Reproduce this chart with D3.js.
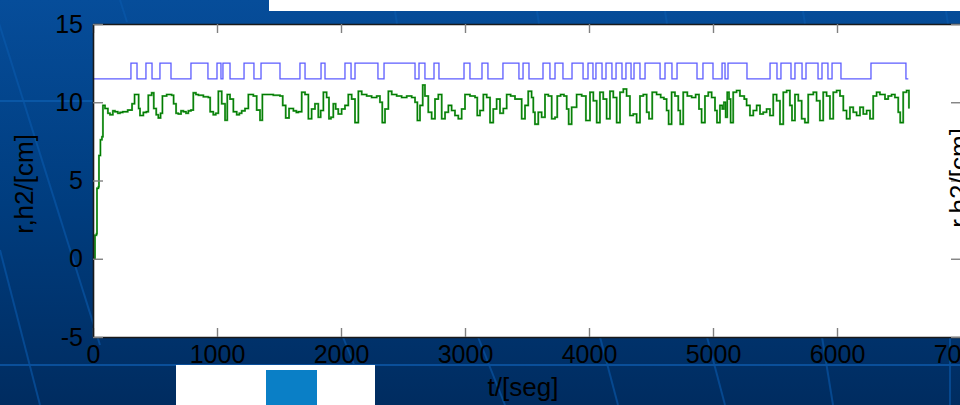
<!DOCTYPE html>
<html>
<head>
<meta charset="utf-8">
<script src="https://cdn.jsdelivr.net/npm/d3@7"></script>
<style>
  body { margin: 0; background: #003a7a; }
  svg { display: block; font-family: "Liberation Sans", Arial, sans-serif; }
</style>
</head>
<body>
<div id="vis"></div>
<script>
// reference signal r: pulses (start, end) in seconds, levels in cm
const R_LOW = 11.5;
const R_HIGH = 12.5;
const R_END = 6575;
const rPulseStart = [306, 427, 540, 790, 1000, 1048, 1218, 1355, 1669, 1839, 2032, 2113, 2347, 2629, 2750, 2992, 3137, 3306, 3468, 3629, 3726, 3863, 3992, 4056, 4137, 4218, 4298, 4363, 4452, 4613, 4710, 4919, 5073, 5121, 5460, 5548, 5661, 5750, 5879, 5960, 6274];
const rPulseEnd   = [355, 476, 629, 927, 1032, 1105, 1298, 1508, 1710, 1871, 2081, 2298, 2597, 2677, 2790, 3040, 3185, 3435, 3516, 3685, 3790, 3952, 4032, 4105, 4185, 4266, 4339, 4411, 4573, 4669, 4871, 5000, 5097, 5274, 5516, 5629, 5718, 5847, 5927, 6032, 6556];

// measured level h2
const h2Time = [0, 12, 16, 28, 32, 44, 48, 60, 72, 80, 97, 120, 137, 160, 177, 200, 218, 240, 258, 280, 298, 315, 335, 352, 368, 379, 406, 430, 446, 473, 490, 510, 527, 545, 560, 594, 634, 650, 670, 688, 710, 729, 750, 769, 790, 809, 830, 850, 890, 930, 945, 970, 990, 1011, 1038, 1065, 1083, 1105, 1132, 1159, 1180, 1199, 1226, 1253, 1293, 1320, 1347, 1366, 1400, 1454, 1508, 1530, 1554, 1581, 1616, 1640, 1656, 1683, 1710, 1737, 1763, 1790, 1817, 1836, 1858, 1884, 1903, 1919, 1938, 1957, 1978, 2005, 2032, 2059, 2086, 2113, 2140, 2167, 2207, 2247, 2288, 2314, 2333, 2355, 2382, 2409, 2449, 2489, 2530, 2570, 2597, 2616, 2637, 2659, 2677, 2704, 2731, 2758, 2785, 2812, 2839, 2866, 2892, 2919, 2946, 2973, 3000, 3040, 3081, 3099, 3121, 3148, 3175, 3202, 3228, 3255, 3282, 3309, 3336, 3368, 3403, 3430, 3457, 3484, 3510, 3537, 3551, 3564, 3591, 3618, 3645, 3672, 3699, 3726, 3744, 3771, 3798, 3820, 3836, 3860, 3900, 3941, 3975, 4008, 4035, 4062, 4088, 4115, 4142, 4169, 4196, 4223, 4250, 4277, 4303, 4330, 4357, 4384, 4411, 4438, 4465, 4484, 4510, 4545, 4578, 4604, 4626, 4642, 4666, 4693, 4720, 4736, 4760, 4793, 4828, 4860, 4887, 4908, 4935, 4962, 4989, 5016, 5032, 5056, 5075, 5088, 5102, 5115, 5129, 5142, 5163, 5190, 5217, 5252, 5271, 5298, 5325, 5352, 5379, 5405, 5432, 5459, 5486, 5513, 5540, 5567, 5594, 5620, 5637, 5661, 5688, 5715, 5741, 5768, 5809, 5835, 5862, 5889, 5916, 5943, 5970, 5997, 6024, 6051, 6077, 6104, 6131, 6158, 6185, 6212, 6239, 6266, 6292, 6319, 6346, 6387, 6413, 6440, 6467, 6494, 6510, 6534, 6561, 6580];
const h2Value = [0, 0, 1.5, 1.6, 4.5, 4.6, 6.6, 7.6, 7.8, 9.8, 9.6, 9.3, 9.2, 9.45, 9.4, 9.3, 9.35, 9.4, 9.4, 9.5, 9.5, 9.9, 10.5, 10.5, 9.6, 9.15, 9.35, 9.4, 10.45, 10.6, 9.6, 9.2, 9.0, 9.3, 10.4, 10.5, 10.45, 9.9, 9.3, 9.25, 9.45, 9.4, 9.3, 9.45, 9.5, 10.6, 10.5, 10.45, 10.35, 10.3, 9.4, 9.2, 9.3, 10.7, 9.9, 8.85, 10.5, 10.2, 9.4, 9.2, 9.3, 9.45, 9.6, 10.5, 10.4, 9.5, 8.85, 10.5, 10.5, 10.45, 10.4, 9.8, 9.0, 9.6, 9.45, 9.35, 9.4, 10.64, 10.5, 8.95, 9.57, 9.9, 9.04, 9.47, 10.64, 10.3, 8.95, 9.04, 9.9, 9.57, 9.25, 9.57, 9.8, 10.5, 10.2, 8.7, 10.7, 10.5, 10.4, 10.3, 10.4, 10.0, 8.7, 9.57, 10.7, 10.5, 10.4, 10.3, 10.4, 10.3, 10.0, 8.83, 9.8, 11.1, 10.4, 9.36, 8.95, 10.2, 10.5, 8.95, 9.36, 9.8, 9.47, 9.15, 8.95, 9.57, 10.5, 10.4, 10.3, 9.15, 9.47, 10.5, 10.3, 8.7, 9.57, 10.2, 9.3, 9.6, 10.5, 10.4, 10.2, 10.2, 8.95, 9.8, 10.7, 10.3, 9.36, 8.6, 9.36, 9.04, 10.5, 10.4, 8.95, 9.04, 10.4, 10.5, 10.4, 9.57, 8.6, 9.68, 10.5, 10.4, 8.83, 10.64, 10.1, 8.7, 10.64, 10.2, 8.95, 10.7, 10.3, 8.7, 10.64, 10.85, 10.4, 9.15, 9.25, 8.7, 10.4, 10.5, 9.36, 8.95, 10.64, 10.5, 10.3, 10.2, 9.47, 8.6, 10.64, 10.4, 9.47, 8.6, 10.64, 10.4, 10.3, 10.5, 9.57, 8.7, 10.4, 10.64, 10.3, 9.47, 8.7, 9.8, 9.57, 10.0, 9.04, 10.64, 10.2, 8.7, 10.64, 10.75, 10.4, 10.2, 9.8, 9.15, 9.47, 9.8, 9.25, 9.36, 9.57, 9.15, 10.5, 10.1, 8.6, 10.64, 10.75, 9.8, 8.83, 10.5, 10.1, 8.95, 8.7, 10.5, 10.64, 10.1, 8.83, 10.64, 10.4, 8.95, 10.64, 10.75, 10.4, 9.47, 8.95, 9.68, 9.36, 9.15, 9.68, 9.25, 9.47, 8.95, 10.4, 10.64, 10.5, 10.2, 10.4, 10.5, 10.3, 9.36, 8.7, 10.64, 10.75, 9.6];

const xTicks = [0, 1000, 2000, 3000, 4000, 5000, 6000, 7000];
const yTicks = [-5, 0, 5, 10, 15];
const X_LABEL = "t/[seg]";
const Y_LABEL = "r,h2/[cm]";

const WIDTH = 960;
const HEIGHT = 405;
const PLOT = {left: 93, right: 961, top: 24, bottom: 337};

const svg = d3.select('#vis')
    .append('svg')
    .attr('width', WIDTH)
    .attr('height', HEIGHT);

const X_SCALE = d3.scaleLinear().domain([0, 7000]).range([PLOT.left, PLOT.right]);
const Y_SCALE = d3.scaleLinear().domain([-5, 15]).range([PLOT.bottom, PLOT.top]);

// slide background
const defs = svg.append('defs');
const grad = defs.append('linearGradient')
    .attr('id', 'bg').attr('x1', 0).attr('y1', 0).attr('x2', 0).attr('y2', 1);
grad.append('stop').attr('offset', '0%').attr('stop-color', '#064d9a');
grad.append('stop').attr('offset', '50%').attr('stop-color', '#003d7f');
grad.append('stop').attr('offset', '100%').attr('stop-color', '#002c60');

svg.append('rect').attr('width', WIDTH).attr('height', HEIGHT).attr('fill', 'url(#bg)');

// faint decorative streaks of the slide
const streaks = [
  [-2, 20, 100, 345], [0, 250, 40, 405], [120, 0, 127, 22],
  [395, 11, 397, 24], [537, 11, 539, 24], [665, 11, 667, 24], [803, 11, 805, 24], [946, 11, 948, 24],
  [343, 337, 357, 372], [478, 337, 505, 405], [600, 337, 618, 405], [707, 337, 725, 405], [822, 337, 833, 405], [950, 337, 950, 405]
];
svg.append('g').selectAll('line')
    .data(streaks)
    .enter()
    .append('line')
        .attr('x1', d => d[0]).attr('y1', d => d[1])
        .attr('x2', d => d[2]).attr('y2', d => d[3])
        .attr('stroke', '#0a5aad')
        .attr('stroke-width', 2)
        .attr('opacity', 0.6);

svg.append('line').attr('x1', 0).attr('x2', PLOT.left).attr('y1', 101).attr('y2', 101)
    .attr('stroke', '#0a57a6').attr('stroke-width', 2);
svg.append('line').attr('x1', 0).attr('x2', WIDTH).attr('y1', 365).attr('y2', 365)
    .attr('stroke', '#0a4f9a').attr('stroke-width', 2);

// white strip at top of slide
svg.append('rect').attr('x', 269).attr('y', 0).attr('width', WIDTH - 269).attr('height', 11).attr('fill', '#ffffff');

// plot area
svg.append('rect')
    .attr('x', PLOT.left).attr('y', PLOT.top)
    .attr('width', PLOT.right - PLOT.left).attr('height', PLOT.bottom - PLOT.top)
    .attr('fill', '#ffffff');

defs.append('clipPath').attr('id', 'clip')
  .append('rect')
    .attr('x', PLOT.left).attr('y', PLOT.top)
    .attr('width', PLOT.right - PLOT.left).attr('height', PLOT.bottom - PLOT.top);

// build step series for r
const rData = [{t: 0, v: R_LOW}];
rPulseStart.forEach((s, i) => {
  rData.push({t: s, v: R_HIGH});
  rData.push({t: rPulseEnd[i], v: R_LOW});
});
rData.push({t: R_END, v: R_LOW});

const h2Data = h2Time.map((t, i) => ({t: t, v: h2Value[i]}));

const stepLine = d3.line()
    .x(d => X_SCALE(d.t))
    .y(d => Y_SCALE(d.v))
    .curve(d3.curveStepAfter);

const plotG = svg.append('g').attr('clip-path', 'url(#clip)');

plotG.append('path')
    .datum(rData)
    .attr('d', stepLine)
    .attr('fill', 'none')
    .attr('stroke', '#5c5cff')
    .attr('stroke-width', 1.3);

plotG.append('path')
    .datum(h2Data)
    .attr('d', stepLine)
    .attr('fill', 'none')
    .attr('stroke', '#5cb45c')
    .attr('stroke-width', 2);

plotG.append('path')
    .datum(h2Data)
    .attr('d', stepLine)
    .attr('fill', 'none')
    .attr('stroke', '#007a00')
    .attr('stroke-width', 1.1);

// axes, MATLAB style ticks pointing inwards
function styleAxis(g) {
  g.select('.domain').attr('stroke', '#1a1a1a').attr('stroke-width', 1.6);
  g.selectAll('.tick line').attr('stroke', '#808080').attr('stroke-width', 1.4);
  g.selectAll('.tick text')
      .attr('fill', '#000')
      .attr('font-size', '25px')
      .attr('font-family', '"Liberation Sans", Arial, sans-serif');
}

const fmt = d => String(d);

svg.append('g')
    .attr('transform', 'translate(0,' + PLOT.bottom + ')')
    .call(d3.axisBottom(X_SCALE).tickValues(xTicks).tickFormat(fmt).tickSizeInner(-9).tickSizeOuter(0).tickPadding(8))
    .call(styleAxis);

svg.append('g')
    .attr('transform', 'translate(0,' + PLOT.top + ')')
    .call(d3.axisTop(X_SCALE).tickValues(xTicks).tickSizeInner(-9).tickSizeOuter(0).tickFormat(''))
    .call(styleAxis);

svg.append('g')
    .attr('transform', 'translate(' + PLOT.left + ',0)')
    .call(d3.axisLeft(Y_SCALE).tickValues(yTicks).tickFormat(fmt).tickSizeInner(-10).tickSizeOuter(0).tickPadding(10))
    .call(styleAxis);

svg.append('g')
    .attr('transform', 'translate(' + PLOT.right + ',0)')
    .call(d3.axisRight(Y_SCALE).tickValues(yTicks).tickSizeInner(-10).tickSizeOuter(0).tickFormat(''))
    .call(styleAxis);

// axis labels
svg.append('text')
    .attr('transform', 'translate(33,184) rotate(-90)')
    .attr('text-anchor', 'middle')
    .attr('font-size', '26px')
    .attr('fill', '#000')
    .text(Y_LABEL);

svg.append('text')
    .attr('transform', 'translate(968,178) rotate(-90)')
    .attr('text-anchor', 'middle')
    .attr('font-size', '26px')
    .attr('fill', '#000')
    .text(Y_LABEL);

svg.append('text')
    .attr('x', 523)
    .attr('y', 396)
    .attr('text-anchor', 'middle')
    .attr('font-size', '26px')
    .attr('fill', '#000')
    .text(X_LABEL);

// white box with blue square below the axes
svg.append('rect').attr('x', 176).attr('y', 365).attr('width', 199).attr('height', 40).attr('fill', '#ffffff');
svg.append('rect').attr('x', 266).attr('y', 370).attr('width', 51).attr('height', 35).attr('fill', '#0a7fc6');
</script>
</body>
</html>
